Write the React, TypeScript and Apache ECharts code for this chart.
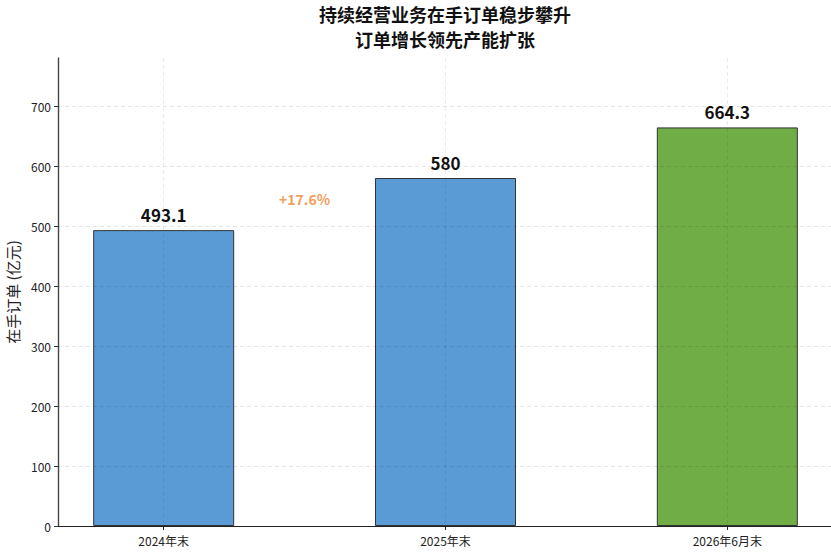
import React, { useEffect, useRef } from 'react';
import * as echarts from 'echarts';

const categories = ['2024年末', '2025年末', '2026年6月末'];
const orderValues = [493.1, 580, 664.3];
const barColors = ['#5B9BD5', '#5B9BD5', '#70AD47'];
const yTicks = [0, 100, 200, 300, 400, 500, 600, 700];
const growthText = '+17.6%';
const growthPoint = [0.5, 545];

const FONT = '"Noto Sans CJK SC", "Noto Sans", sans-serif';

const App: React.FC = () => {
  const chartRef = useRef<HTMLDivElement>(null);

  useEffect(() => {
    document.body.style.margin = '0';
    const chart = echarts.init(chartRef.current, null, { renderer: 'svg' });

    const option = {
      animation: false,
      textStyle: { fontFamily: FONT },
      title: {
        text: '持续经营业务在手订单稳步攀升\n订单增长领先产能扩张',
        left: 445,
        top: 1,
        padding: 0,
        textAlign: 'center',
        textStyle: {
          fontFamily: FONT,
          fontSize: 18,
          fontWeight: 'bold',
          color: '#111',
          lineHeight: 25,
        },
      },
      grid: { left: 58, right: -2, top: 58, bottom: 31, outerBoundsMode: 'none', containLabel: false },
      xAxis: {
        type: 'value',
        min: -0.375,
        max: 2.375,
        z: 3,
        axisLine: { show: true, onZero: false, lineStyle: { color: '#222', width: 1.2 } },
        axisTick: { show: true, length: 4, customValues: [0, 1, 2], lineStyle: { color: '#222' } },
        axisLabel: {
          customValues: [0, 1, 2],
          formatter: (v: number) => categories[Math.round(v)] ?? '',
          fontSize: 12,
          color: '#222',
          margin: 8,
          fontFamily: FONT,
        },
        splitLine: {
          show: true,
          showMinLine: true,
          showMaxLine: true,
          lineStyle: { type: [4, 3], color: 'rgba(0,0,0,0.08)', width: 1 },
        },
      },
      yAxis: {
        type: 'value',
        min: 0,
        max: 780,
        interval: 100,
        z: 3,
        name: '在手订单 (亿元)',
        nameLocation: 'middle',
        nameGap: 38,
        nameTextStyle: { fontSize: 15, color: '#222', fontFamily: FONT },
        axisLine: { show: true, onZero: false, lineStyle: { color: '#444', width: 1.4 } },
        axisTick: { show: true, length: 4, customValues: yTicks, lineStyle: { color: '#333' } },
        axisLabel: {
          customValues: yTicks,
          fontSize: 12,
          color: '#222',
          margin: 7,
          fontFamily: FONT,
        },
        splitLine: {
          show: true,
          showMinLine: false,
          showMaxLine: true,
          lineStyle: { type: [4, 3], color: 'rgba(0,0,0,0.1)', width: 1 },
        },
      },
      series: [
        {
          type: 'bar',
          barWidth: 141,
          data: orderValues.map((v, i) => ({
            value: [i, v],
            itemStyle: { color: barColors[i], borderColor: '#333', borderWidth: 1 },
          })),
          label: {
            show: true,
            position: 'top',
            distance: 7,
            formatter: (p: any) => String(p.value[1]),
            fontSize: 17,
            fontWeight: 'bold',
            color: '#111',
            fontFamily: FONT,
          },
        },
        {
          type: 'scatter',
          symbolSize: 0,
          data: [growthPoint],
          label: {
            show: true,
            position: 'inside',
            formatter: growthText,
            fontSize: 14,
            fontWeight: 'bold',
            color: '#F0842C',
            fontFamily: FONT,
          },
        },
      ],
    };

    chart.setOption(option);
    return () => {
      chart.dispose();
    };
  }, []);

  return <div ref={chartRef} style={{ width: 831, height: 557 }}></div>;
};

export default App;
